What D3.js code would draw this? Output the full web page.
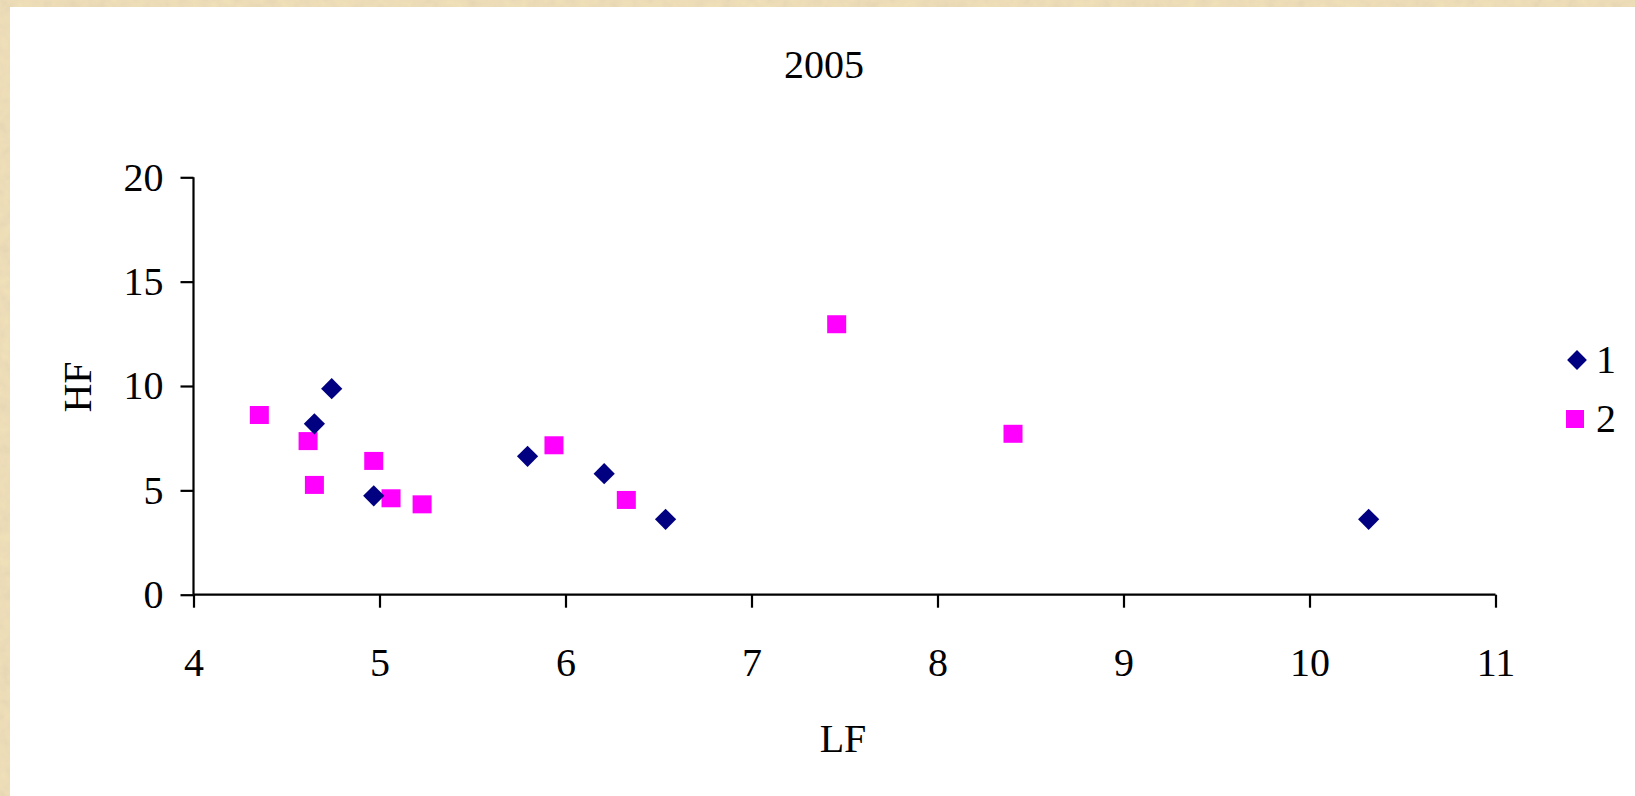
<!DOCTYPE html>
<html>
<head>
<meta charset="utf-8">
<script src="https://cdn.jsdelivr.net/npm/d3@7"></script>
<style>
  html, body { margin: 0; padding: 0; background: #E8D5A7; }
  svg { display: block; }
  text { font-family: "Liberation Serif", "Times New Roman", serif; fill: #000; }
</style>
</head>
<body>
<svg id="chart" width="1635" height="796"></svg>
<script>
// ---- data ----
const title = "2005";
const xLabel = "LF";
const yLabel = "HF";
const xTicks = [4, 5, 6, 7, 8, 9, 10, 11];
const yTicks = [0, 5, 10, 15, 20];
const seriesNames = ["1", "2"];
const series1X = [4.743, 4.650, 4.969, 5.796, 6.208, 6.538, 10.318];
const series1Y = [9.87, 8.19, 4.74, 6.63, 5.80, 3.61, 3.61];
const series2X = [4.354, 4.616, 4.650, 4.969, 5.062, 5.229, 5.938, 6.327, 7.458, 8.406];
const series2Y = [8.61, 7.36, 5.26, 6.41, 4.62, 4.33, 7.16, 4.54, 12.96, 7.71];

const svg = d3.select("#chart");
const FS = "40px";

// textured parchment background
const defs = svg.append("defs");
const f = defs.append("filter").attr("id", "paper").attr("x", 0).attr("y", 0).attr("width", "100%").attr("height", "100%");
f.append("feTurbulence").attr("type", "fractalNoise").attr("baseFrequency", 0.09).attr("numOctaves", 3).attr("seed", 4).attr("result", "n");
f.append("feColorMatrix").attr("in", "n").attr("type", "matrix")
  .attr("values", "0 0 0 0 0.78  0 0 0 0 0.66  0 0 0 0 0.45  0 0 0 -1.3 1.0").attr("result", "c");
f.append("feComposite").attr("in", "c").attr("in2", "SourceGraphic").attr("operator", "over");

svg.append("rect").attr("width", 1635).attr("height", 796).attr("fill", "#F0E0B8").attr("filter", "url(#paper)");
svg.append("rect").attr("x", 10).attr("y", 7).attr("width", 1625).attr("height", 789).attr("fill", "#fff");

const x = d3.scaleLinear().domain([4, 11]).range([193.5, 1495.5]);
const y = d3.scaleLinear().domain([0, 20]).range([594.7, 177.3]);

const xAxis = d3.axisBottom(x).tickValues(xTicks).tickSize(13).tickFormat(d3.format("d"));
const yAxis = d3.axisLeft(y).tickValues(yTicks).tickSize(13).tickPadding(17).tickFormat(d3.format("d"));

const gx = svg.append("g").attr("transform", `translate(0,${y(0)})`).call(xAxis);
const gy = svg.append("g").attr("transform", `translate(${x(4)},0)`).call(yAxis);
[gx, gy].forEach(g => {
  g.attr("font-family", null).attr("font-size", null);
  g.selectAll(".domain").attr("stroke", "#000").attr("stroke-width", 2.2);
  g.selectAll(".tick line").attr("stroke", "#000").attr("stroke-width", 2.2);
  g.selectAll(".tick text").style("font-size", FS);
});
gx.select(".domain").attr("d", `M${x(4)},0H${x(11)}`);
gy.select(".domain").attr("d", `M0,${y(20)}V${y(0)}`);
gx.selectAll(".tick text").attr("y", 81.5).attr("dy", 0);

// title & axis labels
svg.append("text").attr("x", 824).attr("y", 78).attr("text-anchor", "middle").style("font-size", FS).text(title);
svg.append("text").attr("x", 843).attr("y", 752).attr("text-anchor", "middle").style("font-size", FS).text(xLabel);
svg.append("text").attr("transform", "translate(91,387) rotate(-90)").attr("text-anchor", "middle").style("font-size", FS).text(yLabel);

const navy = "#000080", magenta = "#FF00FF";

// series 2 squares
svg.append("g").selectAll("rect").data(d3.zip(series2X, series2Y)).join("rect")
  .attr("x", d => x(d[0]) - 9.5).attr("y", d => y(d[1]) - 9)
  .attr("width", 19).attr("height", 18).attr("fill", magenta);

// series 1 diamonds
svg.append("g").selectAll("path").data(d3.zip(series1X, series1Y)).join("path")
  .attr("d", d3.symbol().type(d3.symbolSquare).size(15 * 15))
  .attr("transform", d => `translate(${x(d[0])},${y(d[1])}) rotate(45)`)
  .attr("fill", navy);

// legend
const leg = svg.append("g");
leg.append("path").attr("d", d3.symbol().type(d3.symbolSquare).size(14 * 14)).attr("transform", "translate(1577,360) rotate(45)").attr("fill", navy);
leg.append("text").attr("x", 1596).attr("y", 373).style("font-size", FS).text(seriesNames[0]);
leg.append("rect").attr("x", 1575 - 9).attr("y", 419 - 9).attr("width", 18).attr("height", 18).attr("fill", magenta);
leg.append("text").attr("x", 1596).attr("y", 432).style("font-size", FS).text(seriesNames[1]);
</script>
</body>
</html>
